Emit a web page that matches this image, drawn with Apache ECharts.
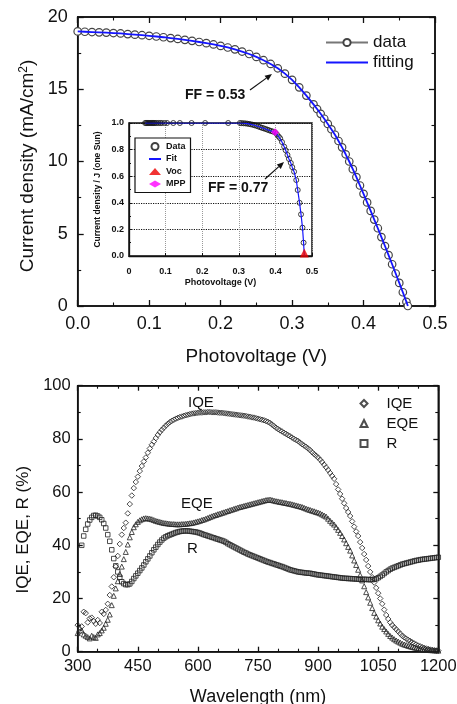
<!DOCTYPE html>
<html><head><meta charset="utf-8">
<script src="https://cdn.jsdelivr.net/npm/echarts@6/dist/echarts.min.js"></script>
<style>html,body{margin:0;padding:0;background:#fff}#c{width:457px;height:704px}</style>
</head><body><div id="c"></div>
<script>
// ---------- Top chart: J-V curve ----------
const mainV = [0,0.01,0.02,0.03,0.04,0.05,0.06,0.07,0.08,0.09,0.10,0.11,0.12,0.13,0.14,0.15,0.16,0.17,0.18,0.19,0.20,0.21,0.22,0.23,0.24,0.25,0.26,0.27,0.28,0.29,0.30,0.31,0.32,0.33,0.335,0.34,0.345,0.35,0.355,0.36,0.365,0.37,0.375,0.38,0.385,0.39,0.395,0.40,0.405,0.41,0.415,0.42,0.425,0.43,0.435,0.44,0.445,0.45,0.455,0.46,0.462];
const mainJ = [19.00,18.98,18.96,18.94,18.92,18.89,18.86,18.82,18.78,18.74,18.70,18.65,18.60,18.54,18.48,18.42,18.35,18.27,18.19,18.10,18.00,17.89,17.76,17.61,17.44,17.24,17.01,16.75,16.45,16.08,15.65,15.13,14.56,13.95,13.63,13.30,12.96,12.60,12.23,11.85,11.42,10.98,10.50,10.00,9.47,8.92,8.34,7.76,7.17,6.58,5.98,5.38,4.77,4.15,3.52,2.89,2.25,1.60,0.95,0.29,0.00];
const mainXTicks = ['0.0','0.1','0.2','0.3','0.4','0.5'];

// ---------- Inset: normalised J-V ----------
const insetV = [0.044,0.047,0.050,0.053,0.056,0.059,0.062,0.065,0.068,0.071,0.075,0.080,0.085,0.090,0.097,0.104,0.121,0.139,0.171,0.208,0.271,
  0.303,0.308,0.313,0.318,0.323,0.328,0.333,0.338,0.343,0.348,0.353,0.358,0.363,0.368,0.373,0.378,0.383,0.388,0.393,0.399,
  0.404,0.409,0.413,0.418,0.424,0.428,0.433,0.437,0.442,0.446,0.451,0.457,0.461,0.466,0.470,0.474,0.477];
const insetJ = [1,1,1,1,1,1,1,1,1,1,1,1,1,1,1,1,1,1,1,1,1,
  1.0,0.999,0.998,0.997,0.995,0.993,0.99,0.987,0.983,0.979,0.974,0.969,0.964,0.96,0.955,0.95,0.945,0.94,0.936,0.93,
  0.915,0.898,0.885,0.857,0.822,0.795,0.76,0.73,0.70,0.668,0.634,0.571,0.496,0.40,0.313,0.213,0.10];
const vocPoint = [0.479, 0];
const mppPoint = [0.399, 0.93];

// ---------- Bottom chart: IQE / EQE / R (5 nm) ----------
const wavelength = [
  300,305,310,315,320,325,330,335,340,345,350,355,360,365,370,375,380,385,390,395,
  400,405,410,415,420,425,430,435,440,445,450,455,460,465,470,475,480,485,490,495,
  500,505,510,515,520,525,530,535,540,545,550,555,560,565,570,575,580,585,590,595,
  600,605,610,615,620,625,630,635,640,645,650,655,660,665,670,675,680,685,690,695,
  700,705,710,715,720,725,730,735,740,745,750,755,760,765,770,775,780,785,790,795,
  800,805,810,815,820,825,830,835,840,845,850,855,860,865,870,875,880,885,890,895,
  900,905,910,915,920,925,930,935,940,945,950,955,960,965,970,975,980,985,990,995,
  1000,1005,1010,1015,1020,1025,1030,1035,1040,1045,1050,1055,1060,1065,1070,1075,1080,1085,1090,1095,
  1100,1105,1110,1115,1120,1125,1130,1135,1140,1145,1150,1155,1160,1165,1170,1175,1180,1185,1190,1195,
  1200];
const iqe = [
  10,7.5,9.5,15,14.5,11,12.5,12.8,11.5,10.5,11.9,10.8,15,14.2,15.7,18,21.3,24.5,28,32,
  36,40.5,44,46.5,48.5,52,55.5,58.7,61.5,63.8,65.8,67.9,69.8,71.5,73,74.8,76.4,77.8,79,80.3,
  81.5,82.5,83.4,84.2,85,85.7,86.3,86.8,87.2,87.6,87.9,88.2,88.4,88.7,88.9,89.1,89.3,89.5,89.6,89.7,
  89.8,89.9,89.9,90,90,90.1,90.1,90,90,90,89.9,89.8,89.8,89.7,89.6,89.5,89.4,89.3,89.2,89.1,
  89,88.9,88.8,88.7,88.6,88.4,88.3,88.1,88,87.8,87.6,87.4,87.2,87,86.7,86.4,86,85.4,84.8,84.2,
  83.7,83.2,82.8,82.3,81.9,81.4,81,80.5,80,79.6,79.2,78.6,78,77.5,77,76.4,75.8,75,74.3,73.7,
  73,72.2,71.3,70.3,69.3,68.3,67.2,66.1,65,63,61,59.3,57.5,55.8,54,52.5,51,49,47,45.2,
  43.5,41.2,39,36.7,34.5,32.2,30,28,26,24,22,20,18,15.8,13.8,12.3,11,10,9.2,8.4,
  7.6,6.8,6,5.4,4.9,4.4,4,3.5,3.1,2.7,2.3,2,1.7,1.4,1.2,1,0.8,0.65,0.5,0.45,
  0.4];
const eqe = [
  7,9,8,6.5,6,5.5,5,6,5.5,5.2,6.5,7,8,9,10.5,12,14,17.5,21,23.8,
  26.5,29.2,32,34.8,37.5,40.3,43,45,46.8,47.9,48.8,49.4,49.8,50.1,50.2,50.1,50,49.8,49.5,49.2,
  49,48.8,48.6,48.4,48.3,48.2,48.1,48,48,47.9,47.9,47.9,48,48,48.1,48.2,48.3,48.4,48.6,48.8,
  49,49.2,49.5,49.7,50,50.3,50.6,50.9,51.2,51.4,51.7,51.9,52.2,52.4,52.7,52.9,53.2,53.4,53.7,53.9,
  54.2,54.4,54.6,54.8,55,55.2,55.4,55.6,55.8,56,56.2,56.4,56.6,56.8,57,57.1,57.2,57,56.8,56.6,
  56.5,56.3,56.2,56,55.9,55.7,55.6,55.4,55.2,55,54.8,54.6,54.4,54.1,53.8,53.5,53.3,53,52.8,52.5,
  52.3,52,51.6,51.2,50.8,50,49.2,48.5,47.8,46.8,45.8,44.7,43.5,42.2,40.8,39.4,38,36.2,34.3,32.6,
  30.8,28.8,26.8,24.6,22.4,20.4,18.4,16.4,14.6,13.2,11.8,10.6,9.4,8.5,7.6,6.7,5.9,5.3,4.7,4.2,
  3.8,3.4,3,2.7,2.5,2.2,2,1.8,1.6,1.45,1.3,1.15,1,0.9,0.8,0.7,0.6,0.55,0.5,0.45,
  0.4];
const refl = [
  null,null,40,43.5,46,48,49.5,50.5,51.2,51.3,51,50.5,49.6,48.2,46.5,44,41.5,38.3,35,32.3,
  30,28,26.3,25.6,25.2,25.2,25.5,26.4,27.5,28.5,29.5,30.5,31.5,32.6,33.8,34.9,36,37.2,38.3,39.3,
  40.3,41.2,42,42.7,43.2,43.6,43.9,44.2,44.5,44.8,45,45.2,45.3,45.4,45.4,45.4,45.3,45.2,45.1,45,
  44.8,44.6,44.3,44,43.8,43.5,43.3,43,42.8,42.5,42.3,42,41.8,41.5,41.1,40.6,40.2,39.8,39.4,39,
  38.6,38.2,37.8,37.4,37.1,36.7,36.4,36.1,35.8,35.5,35.2,34.9,34.6,34.3,34,33.7,33.5,33.2,33,32.7,
  32.5,32.2,32,31.7,31.4,31.1,30.8,30.6,30.4,30.2,30,29.9,29.8,29.7,29.6,29.5,29.5,29.3,29.2,29,
  28.9,28.8,28.7,28.6,28.5,28.4,28.3,28.2,28.1,28,27.9,27.8,27.7,27.6,27.6,27.5,27.5,27.4,27.4,27.3,
  27.3,27.2,27.2,27.2,27.2,27.1,27.1,27.1,27.2,27.4,27.8,28.3,28.8,29.4,30,30.5,31,31.4,31.7,32,
  32.3,32.6,32.9,33.1,33.3,33.5,33.7,33.9,34.1,34.3,34.4,34.6,34.7,34.8,34.9,35,35.1,35.2,35.3,35.4,
  35.5];

// ---------- rendering ----------
const INK = '#111';
const FONT = '"Liberation Sans", Arial, Helvetica, sans-serif';
const pairs = (xs, ys) => xs.map((x, i) => [x, ys[i]]).filter(p => p[1] !== null && p[1] !== undefined);

function axis(extra) {
  const base = {
    type: 'value',
    axisLine: {show: true, onZero: false, lineStyle: {color: INK, width: 1.5}},
    axisTick: {show: true, inside: true, length: 6, lineStyle: {color: INK, width: 1.3}},
    minorTick: {show: true, splitNumber: 2, length: 3.5, lineStyle: {color: INK, width: 1.1}},
    splitLine: {show: false},
    axisLabel: {show: true, color: INK, fontFamily: FONT}
  };
  for (const k in extra) {
    if (base[k] && typeof base[k] === 'object' && !Array.isArray(base[k]) && typeof extra[k] === 'object') {
      base[k] = Object.assign({}, base[k], extra[k]);
    } else base[k] = extra[k];
  }
  return base;
}

function arrow(x1, y1, x2, y2) {
  const dx = x2 - x1, dy = y2 - y1, L = Math.hypot(dx, dy), ux = dx / L, uy = dy / L;
  const hl = 7, hw = 3;
  const bx = x2 - ux * hl, by = y2 - uy * hl;
  return [
    {type: 'line', z: 100, shape: {x1: x1, y1: y1, x2: bx, y2: by}, style: {stroke: INK, lineWidth: 1.2}},
    {type: 'polygon', z: 100, shape: {points: [[x2, y2], [bx - uy * hw, by + ux * hw], [bx + uy * hw, by - ux * hw]]}, style: {fill: INK}}
  ];
}

const chart = echarts.init(document.getElementById('c'), null, {renderer: 'canvas'});
const hollow = c => ({color: 'rgba(255,255,255,0)', borderColor: c, borderWidth: 1});
const NOFILL = 'rgba(0,0,0,0)';

const option = {
  animation: false,
  backgroundColor: '#fff',
  textStyle: {fontFamily: FONT, color: INK},
  grid: [
    {left: 77.7, top: 17, width: 357.3, height: 289, show: true, borderColor: INK, borderWidth: 1.5, outerBoundsMode: 'none'},
    {left: 129, top: 123, width: 183, height: 133, show: true, backgroundColor: '#fff', borderColor: INK, borderWidth: 1.5, outerBoundsMode: 'none'},
    {left: 77.7, top: 385.7, width: 360.6, height: 266, show: true, borderColor: INK, borderWidth: 1.5, outerBoundsMode: 'none'}
  ],
  xAxis: [
    axis({gridIndex: 0, min: 0, max: 0.5, interval: 0.1,
      axisLabel: {fontSize: 18, margin: 9, formatter: v => mainXTicks[Math.round(v * 10)]},
      name: 'Photovoltage (V)', nameLocation: 'middle', nameGap: 41,
      nameTextStyle: {fontSize: 19, color: INK, fontFamily: FONT}}),
    axis({gridIndex: 0, min: 0, max: 0.5, interval: 0.1, position: 'top', axisLabel: {show: false}}),
    axis({gridIndex: 1, min: 0, max: 0.5, interval: 0.1,
      axisLine: {lineStyle: {color: INK, width: 1.3}},
      axisTick: {length: 3, lineStyle: {color: INK, width: 1}},
      minorTick: {show: false},
      splitLine: {show: true, lineStyle: {type: 'dotted', color: '#999', width: 1}},
      axisLabel: {fontSize: 9, fontWeight: 'bold', margin: 11, formatter: v => v === 0 ? '0' : v.toFixed(1)},
      name: 'Photovoltage (V)', nameLocation: 'middle', nameGap: 22,
      nameTextStyle: {fontSize: 9, fontWeight: 'bold', color: INK, fontFamily: FONT}}),
    axis({gridIndex: 2, min: 300, max: 1200, interval: 150,
      axisTick: {length: 5}, minorTick: {splitNumber: 3, length: 3},
      axisLabel: {fontSize: 16.5, margin: 6, formatter: v => String(v)},
      name: 'Wavelength (nm)', nameLocation: 'middle', nameGap: 36,
      nameTextStyle: {fontSize: 18, color: INK, fontFamily: FONT}}),
    axis({gridIndex: 2, min: 300, max: 1200, interval: 150, position: 'top',
      axisTick: {length: 5}, minorTick: {splitNumber: 3, length: 3}, axisLabel: {show: false}})
  ],
  yAxis: [
    axis({gridIndex: 0, min: 0, max: 20, interval: 5,
      axisLabel: {fontSize: 18, margin: 10},
      name: 'Current density (mA/cm{sup|2})', nameLocation: 'middle', nameGap: 40, nameRotate: 90,
      nameTextStyle: {fontSize: 19, color: INK, fontFamily: FONT, padding: [0, 9, 0, 0],
        rich: {sup: {fontSize: 12, verticalAlign: 'top', color: INK, fontFamily: FONT}}}}),
    axis({gridIndex: 0, min: 0, max: 20, interval: 5, position: 'right', axisLabel: {show: false}}),
    axis({gridIndex: 1, min: 0, max: 1, interval: 0.2,
      axisLine: {lineStyle: {color: INK, width: 1.3}},
      axisTick: {length: 3, lineStyle: {color: INK, width: 1}},
      minorTick: {length: 2, lineStyle: {color: INK, width: 1}},
      splitLine: {show: true, lineStyle: {type: 'dotted', color: '#111', width: 1.2}},
      axisLabel: {fontSize: 9, fontWeight: 'bold', margin: 5, formatter: v => v.toFixed(1)},
      name: 'Current density / J (one Sun)', nameLocation: 'middle', nameGap: 27, nameRotate: 90,
      nameTextStyle: {fontSize: 8.5, fontWeight: 'bold', color: INK, fontFamily: FONT}}),
    axis({gridIndex: 2, min: 0, max: 100, interval: 20,
      axisTick: {length: 5}, minorTick: {length: 3},
      axisLabel: {fontSize: 16.5, margin: 7},
      name: 'IQE, EQE, R (%)', nameLocation: 'middle', nameGap: 38, nameRotate: 90,
      nameTextStyle: {fontSize: 17, color: INK, fontFamily: FONT, padding: [0, 22, 0, 0]}}),
    axis({gridIndex: 2, min: 0, max: 100, interval: 20, position: 'right',
      axisTick: {length: 5}, minorTick: {length: 3}, axisLabel: {show: false}})
  ],
  legend: [
    {data: ['data', 'fitting'], left: 325, top: 34, orient: 'vertical', padding: 0,
      itemWidth: 42, itemHeight: 9, itemGap: 3, textStyle: {fontSize: 17, color: INK, fontFamily: FONT}},
    {data: ['Data', 'Fit', 'Voc', 'MPP'], left: 135, top: 138, orient: 'vertical', padding: [4, 5, 4, 13],
      itemWidth: 12, itemHeight: 7, itemGap: 3.5, borderColor: INK, borderWidth: 1.2, backgroundColor: '#fff',
      symbolKeepAspect: true,
      textStyle: {fontSize: 9, fontWeight: 'bold', color: INK, fontFamily: FONT}, z: 10},
    {data: ['IQE', 'EQE', 'R'], left: 359.5, top: 396, orient: 'vertical', padding: 0,
      itemWidth: 7, itemHeight: 7, itemGap: 5, symbolKeepAspect: true,
      textStyle: {fontSize: 15, color: INK, fontFamily: FONT, padding: [0, 0, 0, 14]}}
  ],
  graphic: [
    {type: 'text', left: 185, top: 88, z: 100, style: {text: 'FF = 0.53', fontSize: 14, fontWeight: 'bold', fontFamily: FONT, fill: INK}},
    ...arrow(250, 90, 272, 74),
    {type: 'text', left: 208, top: 181, z: 100, style: {text: 'FF = 0.77', fontSize: 14, fontWeight: 'bold', fontFamily: FONT, fill: INK}},
    ...arrow(265, 179, 284, 162),
    {type: 'text', left: 188, top: 395, z: 100, style: {text: 'IQE', fontSize: 15, fontFamily: FONT, fill: INK}},
    {type: 'text', left: 181, top: 496, z: 100, style: {text: 'EQE', fontSize: 15, fontFamily: FONT, fill: INK}},
    {type: 'text', left: 187, top: 541, z: 100, style: {text: 'R', fontSize: 15, fontFamily: FONT, fill: INK}}
  ],
  series: [
    {name: 'data', type: 'line', xAxisIndex: 0, yAxisIndex: 0, data: pairs(mainV, mainJ),
      symbol: 'circle', symbolSize: 7.5, showAllSymbol: true,
      itemStyle: {color: '#fff', borderColor: '#444', borderWidth: 1.2},
      lineStyle: {color: '#777', width: 1.2}, z: 2},
    {name: 'fitting', type: 'line', xAxisIndex: 0, yAxisIndex: 0, data: pairs(mainV, mainJ),
      symbol: 'none', lineStyle: {color: '#1515ff', width: 1.8}, itemStyle: {color: NOFILL, borderColor: NOFILL}, z: 3},
    {name: 'Data', type: 'scatter', xAxisIndex: 2, yAxisIndex: 2, data: pairs(insetV, insetJ),
      symbol: 'circle', symbolSize: 5, symbolKeepAspect: true, itemStyle: hollow('#111'), z: 4},
    {name: 'Fit', type: 'line', xAxisIndex: 2, yAxisIndex: 2, data: pairs(insetV, insetJ).concat([vocPoint]),
      symbol: 'none', lineStyle: {color: '#1515ff', width: 1.2}, itemStyle: {color: NOFILL, borderColor: NOFILL}, z: 5},
    {name: 'Voc', type: 'scatter', xAxisIndex: 2, yAxisIndex: 2, data: [vocPoint],
      symbol: 'triangle', symbolSize: 9, symbolOffset: [0, -3], symbolKeepAspect: true, itemStyle: {color: '#ee0000'}, z: 6},
    {name: 'MPP', type: 'scatter', xAxisIndex: 2, yAxisIndex: 2, data: [mppPoint],
      symbol: 'diamond', symbolSize: 8, symbolKeepAspect: true, itemStyle: {color: '#ff00ff'}, z: 6},
    {name: 'IQE', type: 'scatter', xAxisIndex: 3, yAxisIndex: 3, data: pairs(wavelength, iqe),
      symbol: 'diamond', symbolSize: 5.5, itemStyle: hollow('#222')},
    {name: 'EQE', type: 'scatter', xAxisIndex: 3, yAxisIndex: 3, data: pairs(wavelength, eqe),
      symbol: 'triangle', symbolSize: 5, itemStyle: hollow('#222')},
    {name: 'R', type: 'scatter', xAxisIndex: 3, yAxisIndex: 3, data: pairs(wavelength, refl),
      symbol: 'rect', symbolSize: 4.5, itemStyle: hollow('#222')}
  ]
};
chart.setOption(option);
</script></body></html>
